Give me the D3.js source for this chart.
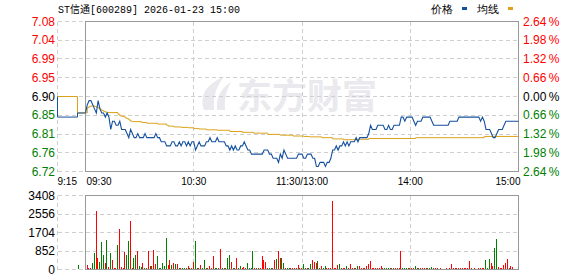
<!DOCTYPE html>
<html>
<head>
<meta charset="utf-8">
<script src="https://cdn.jsdelivr.net/npm/d3@7/dist/d3.min.js"></script>
<style>
  body { margin: 0; background: #fff; }
  svg text { font-family: "Liberation Sans", Arial, sans-serif; }
</style>
</head>
<body>
<div id="chart"></div>
<script>
// chart data
var title = 'ST信通[600289] 2026-01-23 15:00';
var prevClose = 6.90;
var pctSteps = [2.64, 1.98, 1.32, 0.66, 0, -0.66, -1.32, -1.98, -2.64];
var priceTicks = ['7.08', '7.04', '6.99', '6.95', '6.90', '6.85', '6.81', '6.76', '6.72'];
var pctTicks = ['2.64', '1.98', '1.32', '0.66', '0.00', '0.66', '1.32', '1.98', '2.64'];
var volTicks = [3408, 2556, 1704, 852, 0];
var preLabel = '9:15';
var timeLabels = ['09:30', '10:30', '11:30/13:00', '14:00', '15:00'];
var timeMin = [0, 60, 120, 180, 240];
var legendNames = ['价格', '均线'];

// call auction 9:15 - 9:30
var preMin = [0, 0, 10, 10, 14];
var prePrice = [6.90, 6.85, 6.85, 6.86, 6.86];
var preAvg = [6.90, 6.90, 6.90, 6.86, 6.86];
var preVolMin = [10];
var preVol = [184];
var preVolDir = ['g'];

// one value per minute, 09:30 .. 15:00
var price = [
  6.86,6.88,6.89,6.89,6.88,6.87,6.86,6.89,6.87,6.86,
  6.86,6.85,6.86,6.85,6.82,6.84,6.84,6.83,6.83,6.84,
  6.82,6.82,6.82,6.81,6.80,6.82,6.81,6.80,6.80,6.81,
  6.80,6.80,6.80,6.81,6.80,6.80,6.80,6.80,6.80,6.81,
  6.80,6.80,6.79,6.79,6.79,6.78,6.78,6.78,6.79,6.79,
  6.78,6.78,6.79,6.78,6.79,6.79,6.78,6.79,6.78,6.79,
  6.79,6.77,6.78,6.79,6.78,6.78,6.78,6.79,6.79,6.80,
  6.79,6.79,6.79,6.80,6.79,6.79,6.79,6.79,6.78,6.78,
  6.77,6.78,6.77,6.78,6.77,6.77,6.78,6.78,6.79,6.78,
  6.77,6.77,6.76,6.76,6.76,6.76,6.76,6.76,6.76,6.77,
  6.77,6.77,6.76,6.76,6.75,6.75,6.75,6.74,6.76,6.75,
  6.77,6.76,6.75,6.75,6.75,6.75,6.75,6.75,6.76,6.76,
  6.76,6.75,6.75,6.76,6.76,6.76,6.75,6.75,6.73,6.73,
  6.74,6.74,6.74,6.73,6.74,6.74,6.75,6.77,6.77,6.78,
  6.77,6.78,6.78,6.79,6.78,6.79,6.78,6.79,6.79,6.79,
  6.80,6.79,6.80,6.80,6.80,6.80,6.80,6.81,6.83,6.82,
  6.82,6.82,6.83,6.83,6.83,6.83,6.82,6.82,6.83,6.82,
  6.82,6.83,6.83,6.83,6.83,6.85,6.85,6.84,6.85,6.85,
  6.85,6.85,6.84,6.83,6.84,6.84,6.84,6.85,6.85,6.85,
  6.85,6.85,6.84,6.83,6.83,6.83,6.83,6.83,6.83,6.83,
  6.83,6.83,6.84,6.84,6.84,6.84,6.84,6.85,6.85,6.85,
  6.85,6.85,6.85,6.85,6.85,6.85,6.85,6.85,6.85,6.84,
  6.85,6.84,6.82,6.82,6.82,6.81,6.80,6.80,6.81,6.82,
  6.82,6.82,6.83,6.84,6.84,6.84,6.84,6.84,6.84,6.84,
  6.84
];

// average price line, minute where it changes and its new value
var avgMin = [0,1,2,3,5,6,7,8,9,10,11,12,18,19,20,21,22,23,24,25,26,31,34,40,45,46,49,53,57,60,
  63,67,73,80,87,93,101,108,115,121,124,131,137,143,150,157,183,221];
var avgVal = [6.860,6.873,6.876,6.877,6.876,6.874,6.872,6.869,6.866,6.864,6.862,6.861,6.857,6.853,6.852,
  6.851,6.848,6.846,6.843,6.840,6.839,6.837,6.835,6.833,6.830,6.828,6.826,6.825,6.824,6.822,
  6.821,6.819,6.818,6.815,6.813,6.811,6.808,6.806,6.804,6.803,6.802,6.800,6.797,6.795,6.796,
  6.798,6.800,6.803];

var volume = [
  184,61,61,276,737,2671,507,307,1259,645,
  276,1335,92,737,414,61,61,1105,1842,92,
  46,798,645,1305,2226,61,507,645,844,153,
  92,276,61,46,844,123,123,890,230,614,
  46,61,276,153,1412,184,414,184,276,230,
  230,46,61,46,61,46,123,46,61,307,
  1305,61,46,184,46,414,61,46,123,61,
  583,46,61,46,921,46,61,46,522,645,
  307,61,46,507,46,123,46,92,46,276,
  46,61,829,46,46,61,46,614,430,338,
  46,61,46,46,430,460,844,491,522,276,
  46,61,46,61,61,46,61,184,46,46,
  230,46,61,46,230,414,307,276,368,61,
  123,46,123,46,61,46,3131,61,46,184,
  230,46,46,61,123,46,230,46,61,46,
  123,123,46,46,61,123,230,368,46,61,
  46,61,46,123,46,61,61,46,61,46,
  46,61,46,61,829,46,61,61,46,46,
  61,46,123,61,46,61,46,46,61,46,
  61,92,61,46,46,0,61,0,0,46,
  0,46,230,46,61,46,61,46,46,61,
  46,46,368,46,0,61,0,46,46,46,
  61,414,61,460,276,123,967,1381,92,46,
  61,184,276,460,46,123,92,0,0,0,
  0
];
// r = up tick, g = down tick
var volDir = ('rrrggrrggg' + 'rgrgrrrgrr' + 'rrggrrggrg' + 'grgrrrgrrg' + 'gggggrrgrg' +
  'rgrggrrgrr' + 'ggrrgggrrr' + 'rggrrggrgg' + 'rgrrggrrrg' + 'gggrgrrrrr' +
  'rggrrgrgrg' + 'rggrrrrrgr' + 'ggrggrrrgg' + 'rggrrrrrrr' + 'ggrrgrrrgr' +
  'grrrrrrrrr' + 'rrrrrggggr' + 'grrrrggggr' + 'rrggrrrrrg' + 'gggrrrrrrr' +
  'rrrrrrrrrr' + 'rrrrrrrrrr' + 'rgggrrggrr' + 'rrrrrrrrrr' + 'r').split('');

var width = 578, height = 276;
var priceColor = '#1450a0', avgColor = '#dca21c';
var upColor = '#ff0000', downColor = '#008000';

var svg = d3.select('#chart')
  .append('svg')
  .attr('width', width)
  .attr('height', height);

var x = d3.scaleLinear().domain([0, 240]).range([85.5, 518.5]);
var xPre = d3.scaleLinear().domain([0, 14]).range([57.5, 85.5]);
var y = d3.scaleLinear()
  .domain([prevClose * (1 - 0.0264), prevClose * (1 + 0.0264)])
  .range([171.5, 21.5]);
var yVol = d3.scaleLinear().domain([0, 3408]).range([269.5, 195.5]);

function crisp(v) { return Math.round(v - 0.5) + 0.5; }

// watermark
var wm = svg.append('g').attr('class', 'watermark').attr('fill', '#e9e9ee');
wm.append('path')
  .attr('d', 'M204,110 C199,96 206,84 224,77 C216,86 213,97 214,110 Z M217,110 C216,98 221,88 231,82 C226,91 224,100 225,110 Z');
wm.append('text')
  .attr('x', 237).attr('y', 109)
  .style('font-family', '"Noto Sans CJK SC", sans-serif')
  .style('font-weight', 'bold')
  .style('font-size', '35px')
  .text('东方财富');

// grids
var grid = svg.append('g')
  .attr('class', 'grid')
  .attr('stroke', '#cfcfcf')
  .attr('stroke-dasharray', '4,3')
  .attr('shape-rendering', 'crispEdges');

pctSteps.forEach(function(p) {
  var gy = crisp(y(prevClose * (1 + p / 100)));
  grid.append('line').attr('x1', xPre(0)).attr('x2', x(240)).attr('y1', gy).attr('y2', gy);
});
volTicks.forEach(function(v) {
  var gy = crisp(yVol(v));
  grid.append('line').attr('x1', xPre(0)).attr('x2', x(240)).attr('y1', gy).attr('y2', gy);
});
[xPre(0)].concat(timeMin.slice(1, 4).map(function(m) { return crisp(x(m)); })).forEach(function(gx) {
  grid.append('line').attr('x1', gx).attr('x2', gx).attr('y1', y.range()[1]).attr('y2', y.range()[0]);
  grid.append('line').attr('x1', gx).attr('x2', gx).attr('y1', yVol.range()[1]).attr('y2', yVol.range()[0]);
});

// frames
svg.append('rect')
  .attr('x', x(0)).attr('y', y.range()[1])
  .attr('width', x(240) - x(0)).attr('height', y.range()[0] - y.range()[1])
  .attr('fill', 'none').attr('stroke', '#999').attr('shape-rendering', 'crispEdges');
svg.append('rect')
  .attr('x', x(0)).attr('y', yVol.range()[1])
  .attr('width', x(240) - x(0)).attr('height', yVol.range()[0] - yVol.range()[1])
  .attr('fill', 'none').attr('stroke', '#999').attr('shape-rendering', 'crispEdges');

// price axis labels
var axis = svg.append('g').attr('class', 'axis').style('font-size', '12px');
pctSteps.forEach(function(p, i) {
  var ty = y(prevClose * (1 + p / 100));
  var col = p > 0 ? upColor : (p < 0 ? downColor : '#000');
  axis.append('text')
    .attr('x', 55).attr('y', ty).attr('dy', '0.35em')
    .attr('text-anchor', 'end').attr('fill', col)
    .text(priceTicks[i]);
  var pt = axis.append('text')
    .attr('x', 523).attr('y', ty).attr('dy', '0.35em')
    .attr('fill', col);
  pt.append('tspan').text(pctTicks[i]);
  pt.append('tspan').attr('dx', 2.5).text('%');
});
volTicks.forEach(function(v) {
  axis.append('text')
    .attr('x', 55).attr('y', yVol(v)).attr('dy', '0.35em')
    .attr('text-anchor', 'end').attr('fill', '#000')
    .text(v);
});

// time labels
var timeAxis = svg.append('g')
  .style('font-family', '"Liberation Mono", monospace')
  .style('font-size', '10px');
timeAxis.append('text').attr('x', xPre(0)).attr('y', 185).text(preLabel);
timeLabels.forEach(function(t, i) {
  var anchor = i == 0 ? 'start' : (i == timeLabels.length - 1 ? 'end' : 'middle');
  timeAxis.append('text')
    .attr('x', x(timeMin[i]) + (i == 0 ? 1 : (i == timeLabels.length - 1 ? 2 : 0)))
    .attr('y', 185)
    .attr('text-anchor', anchor)
    .text(t);
});

// title and legend
svg.append('text')
  .attr('x', 58).attr('y', 13)
  .style('font-family', '"Liberation Mono", "Noto Sans CJK SC", monospace')
  .style('font-size', '10px')
  .attr('fill', '#000')
  .text(title);
var legend = svg.append('g')
  .style('font-family', '"Noto Sans CJK SC", sans-serif')
  .style('font-size', '11px');
[[431, priceColor], [477, avgColor]].forEach(function(l, i) {
  legend.append('text').attr('x', l[0]).attr('y', 13).attr('fill', '#000').text(legendNames[i]);
  legend.append('rect').attr('x', l[0] + 31).attr('y', 7).attr('width', 5).attr('height', 3).attr('fill', l[1]);
});

// volume bars
var bars = svg.append('g').attr('class', 'volume').attr('shape-rendering', 'crispEdges');
bars.selectAll('rect.v')
  .data(volume)
  .enter().append('rect')
    .attr('class', 'v')
    .attr('x', function(d, i) { return Math.round(x(i)) + 1; })
    .attr('y', function(d) { return yVol(d) - 0.5; })
    .attr('width', 1)
    .attr('height', function(d) { return yVol(0) - yVol(d); })
    .attr('fill', function(d, i) { return volDir[i] == 'r' ? upColor : downColor; });
bars.selectAll('rect.p')
  .data(preVol)
  .enter().append('rect')
    .attr('class', 'p')
    .attr('x', function(d, i) { return Math.round(xPre(preVolMin[i])); })
    .attr('y', function(d) { return yVol(d) - 0.5; })
    .attr('width', 1)
    .attr('height', function(d) { return yVol(0) - yVol(d); })
    .attr('fill', function(d, i) { return preVolDir[i] == 'r' ? upColor : downColor; });

// lines
var preLine = d3.line()
  .x(function(d, i) { return xPre(preMin[i]); })
  .y(function(d) { return y(d); });
svg.append('path').datum(preAvg).attr('d', preLine)
  .attr('fill', 'none').attr('stroke', avgColor).attr('stroke-width', 1);
svg.append('path').datum(prePrice).attr('d', preLine)
  .attr('fill', 'none').attr('stroke', priceColor).attr('stroke-width', 1);

var avgPts = avgMin.map(function(m, i) { return [m, avgVal[i]]; });
avgPts.push([240, avgVal[avgVal.length - 1]]);
svg.append('path')
  .datum(avgPts)
  .attr('d', d3.line().curve(d3.curveStepAfter)
    .x(function(d) { return x(d[0]); })
    .y(function(d) { return y(d[1]); }))
  .attr('fill', 'none').attr('stroke', avgColor).attr('stroke-width', 1);

svg.append('path')
  .datum(price)
  .attr('d', d3.line()
    .x(function(d, i) { return x(i); })
    .y(function(d) { return y(d); }))
  .attr('fill', 'none').attr('stroke', priceColor).attr('stroke-width', 1.1);
</script>
</body>
</html>
